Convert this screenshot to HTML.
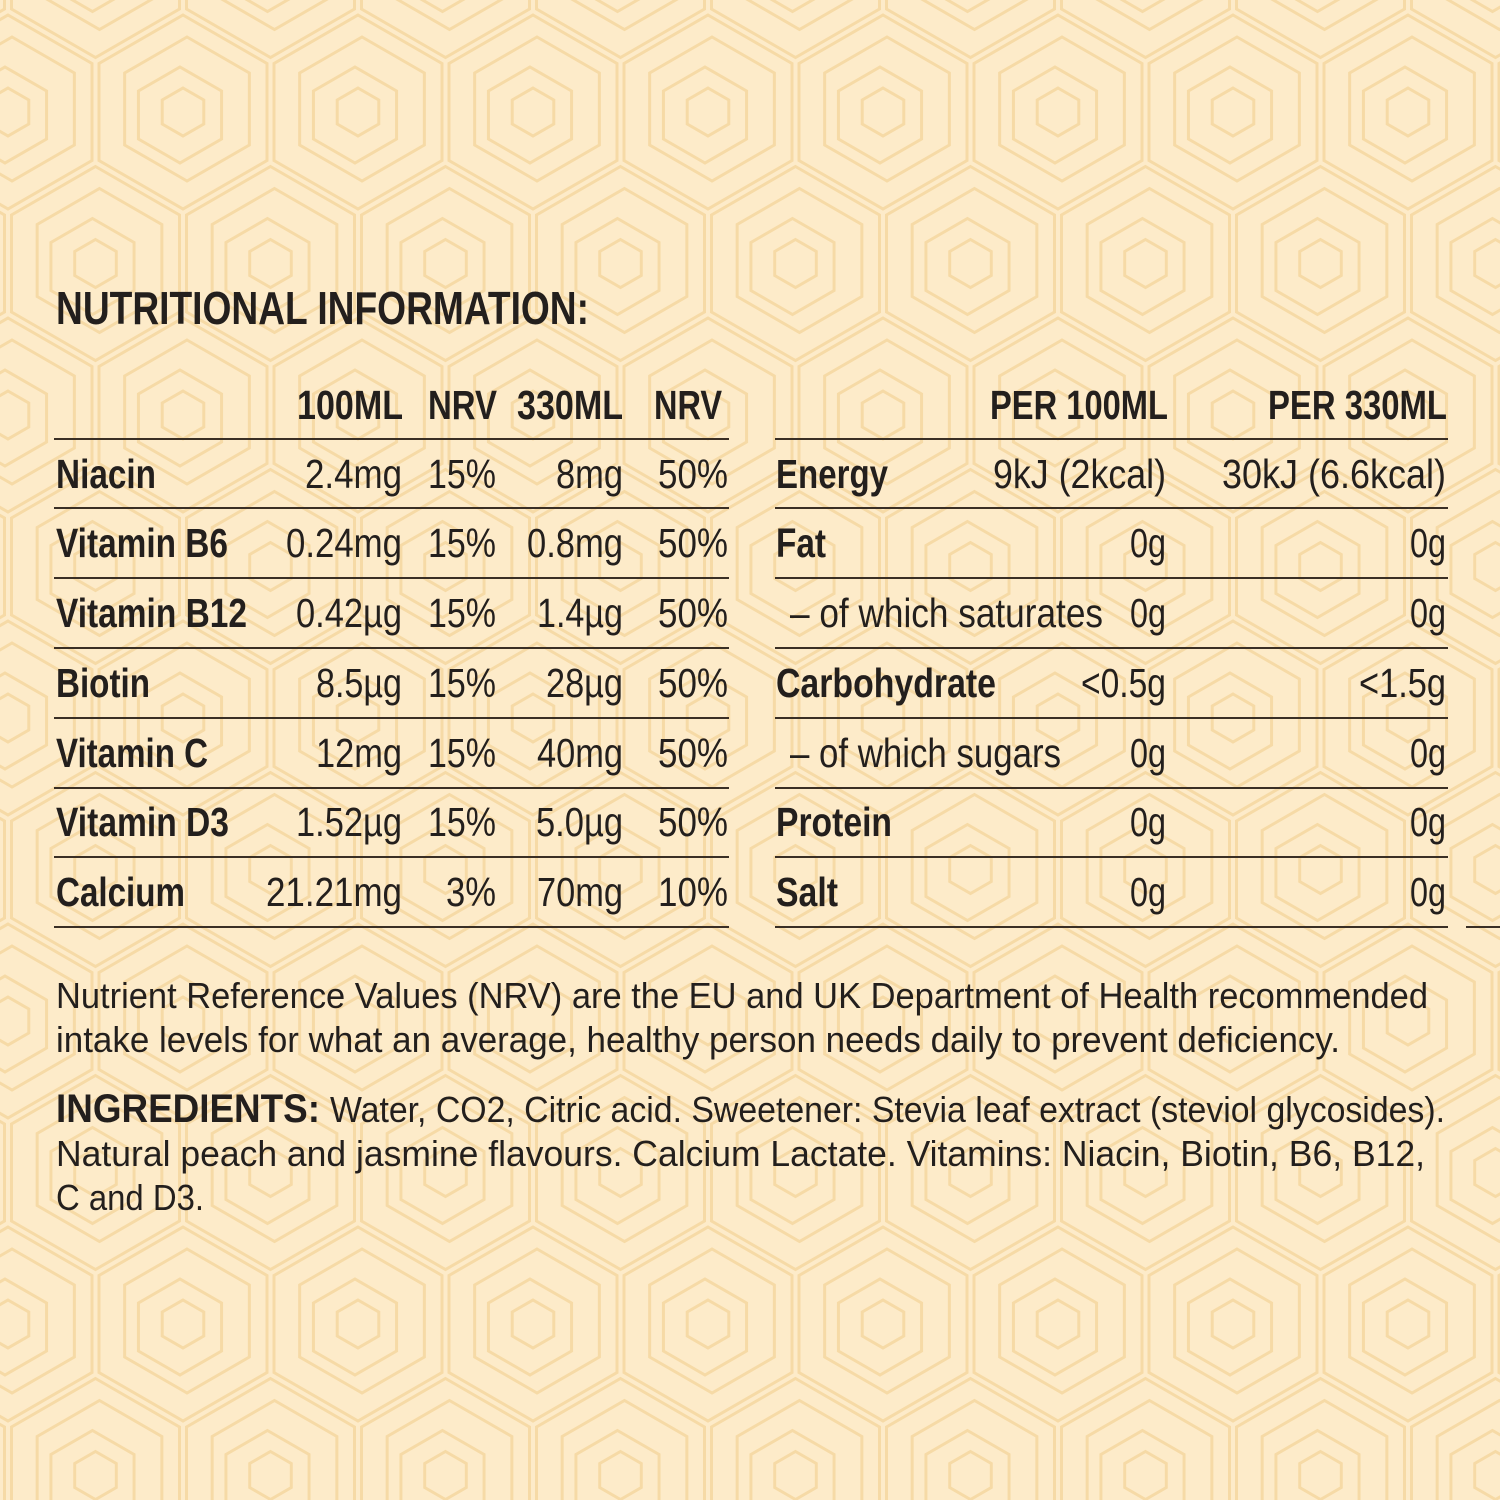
<!DOCTYPE html>
<html>
<head>
<meta charset="utf-8">
<style>
html,body{margin:0;padding:0;background:#fdebc9;}
svg{display:block;}
text{font-family:"Liberation Sans",sans-serif;fill:#231f1d;}
.b{font-weight:bold;}
</style>
</head>
<body>
<svg width="1500" height="1500" viewBox="0 0 1500 1500" xmlns="http://www.w3.org/2000/svg">
<defs>
<g id="hx" fill="none" stroke="#f5d7a0" stroke-width="3">
<polygon points="0,-1 0.866,-0.5 0.866,0.5 0,1 -0.866,0.5 -0.866,-0.5" transform="scale(97)" vector-effect="non-scaling-stroke"/>
<polygon points="0,-1 0.866,-0.5 0.866,0.5 0,1 -0.866,0.5 -0.866,-0.5" transform="translate(4,-3) scale(72)" vector-effect="non-scaling-stroke"/>
<polygon points="0,-1 0.866,-0.5 0.866,0.5 0,1 -0.866,0.5 -0.866,-0.5" transform="translate(-3,3) scale(48)" vector-effect="non-scaling-stroke"/>
<polygon points="0,-1 0.866,-0.5 0.866,0.5 0,1 -0.866,0.5 -0.866,-0.5" transform="scale(24)" vector-effect="non-scaling-stroke"/>
</g>
<pattern id="pt" patternUnits="userSpaceOnUse" width="175" height="303" patternTransform="translate(8,112)">
<use href="#hx" x="0" y="0"/>
<use href="#hx" x="175" y="0"/>
<use href="#hx" x="87.5" y="151.5"/>
<use href="#hx" x="0" y="303"/>
<use href="#hx" x="175" y="303"/>
</pattern>
</defs>
<rect width="1500" height="1500" fill="#fdebc9"/>
<rect width="1500" height="1500" fill="url(#pt)" opacity="0.85"/>

<!-- Title -->
<text class="b" x="56" y="324" font-size="46" textLength="533" lengthAdjust="spacingAndGlyphs">NUTRITIONAL INFORMATION:</text>

<!-- Rules -->
<g stroke="#3a2f25" stroke-width="2">
<line x1="54" y1="439" x2="729" y2="439"/><line x1="775" y1="439" x2="1448" y2="439"/>
<line x1="54" y1="508" x2="729" y2="508"/><line x1="775" y1="508" x2="1448" y2="508"/>
<line x1="54" y1="578" x2="729" y2="578"/><line x1="775" y1="578" x2="1448" y2="578"/>
<line x1="54" y1="648" x2="729" y2="648"/><line x1="775" y1="648" x2="1448" y2="648"/>
<line x1="54" y1="718" x2="729" y2="718"/><line x1="775" y1="718" x2="1448" y2="718"/>
<line x1="54" y1="788" x2="729" y2="788"/><line x1="775" y1="788" x2="1448" y2="788"/>
<line x1="54" y1="857" x2="729" y2="857"/><line x1="775" y1="857" x2="1448" y2="857"/>
<line x1="54" y1="927" x2="729" y2="927"/><line x1="775" y1="927" x2="1448" y2="927"/>
<line x1="1466" y1="927" x2="1500" y2="927"/>
</g>

<!-- Left header -->
<g font-size="41">
<text class="b" x="297" y="419" textLength="106" lengthAdjust="spacingAndGlyphs">100ML</text>
<text class="b" x="428" y="419" textLength="69" lengthAdjust="spacingAndGlyphs">NRV</text>
<text class="b" x="517" y="419" textLength="106" lengthAdjust="spacingAndGlyphs">330ML</text>
<text class="b" x="654" y="419" textLength="68" lengthAdjust="spacingAndGlyphs">NRV</text>

<!-- Right header -->
<text class="b" x="990" y="419" textLength="178" lengthAdjust="spacingAndGlyphs">PER 100ML</text>
<text class="b" x="1268" y="419" textLength="179" lengthAdjust="spacingAndGlyphs">PER 330ML</text>

<!-- Left rows -->
<text class="b" x="56" y="488" textLength="100" lengthAdjust="spacingAndGlyphs">Niacin</text>
<text x="305" y="488" textLength="97" lengthAdjust="spacingAndGlyphs">2.4mg</text>
<text x="428" y="488" textLength="68" lengthAdjust="spacingAndGlyphs">15%</text>
<text x="556" y="488" textLength="67" lengthAdjust="spacingAndGlyphs">8mg</text>
<text x="658" y="488" textLength="70" lengthAdjust="spacingAndGlyphs">50%</text>

<text class="b" x="56" y="557" textLength="172" lengthAdjust="spacingAndGlyphs">Vitamin B6</text>
<text x="286" y="557" textLength="116" lengthAdjust="spacingAndGlyphs">0.24mg</text>
<text x="428" y="557" textLength="68" lengthAdjust="spacingAndGlyphs">15%</text>
<text x="527" y="557" textLength="96" lengthAdjust="spacingAndGlyphs">0.8mg</text>
<text x="658" y="557" textLength="70" lengthAdjust="spacingAndGlyphs">50%</text>

<text class="b" x="56" y="627" textLength="191" lengthAdjust="spacingAndGlyphs">Vitamin B12</text>
<text x="296" y="627" textLength="106" lengthAdjust="spacingAndGlyphs">0.42µg</text>
<text x="428" y="627" textLength="68" lengthAdjust="spacingAndGlyphs">15%</text>
<text x="537" y="627" textLength="86" lengthAdjust="spacingAndGlyphs">1.4µg</text>
<text x="658" y="627" textLength="70" lengthAdjust="spacingAndGlyphs">50%</text>

<text class="b" x="56" y="697" textLength="94" lengthAdjust="spacingAndGlyphs">Biotin</text>
<text x="316" y="697" textLength="86" lengthAdjust="spacingAndGlyphs">8.5µg</text>
<text x="428" y="697" textLength="68" lengthAdjust="spacingAndGlyphs">15%</text>
<text x="546" y="697" textLength="77" lengthAdjust="spacingAndGlyphs">28µg</text>
<text x="658" y="697" textLength="70" lengthAdjust="spacingAndGlyphs">50%</text>

<text class="b" x="56" y="767" textLength="152" lengthAdjust="spacingAndGlyphs">Vitamin C</text>
<text x="316" y="767" textLength="86" lengthAdjust="spacingAndGlyphs">12mg</text>
<text x="428" y="767" textLength="68" lengthAdjust="spacingAndGlyphs">15%</text>
<text x="537" y="767" textLength="86" lengthAdjust="spacingAndGlyphs">40mg</text>
<text x="658" y="767" textLength="70" lengthAdjust="spacingAndGlyphs">50%</text>

<text class="b" x="56" y="836" textLength="173" lengthAdjust="spacingAndGlyphs">Vitamin D3</text>
<text x="296" y="836" textLength="106" lengthAdjust="spacingAndGlyphs">1.52µg</text>
<text x="428" y="836" textLength="68" lengthAdjust="spacingAndGlyphs">15%</text>
<text x="536" y="836" textLength="87" lengthAdjust="spacingAndGlyphs">5.0µg</text>
<text x="658" y="836" textLength="70" lengthAdjust="spacingAndGlyphs">50%</text>

<text class="b" x="56" y="906" textLength="129" lengthAdjust="spacingAndGlyphs">Calcium</text>
<text x="266" y="906" textLength="136" lengthAdjust="spacingAndGlyphs">21.21mg</text>
<text x="446" y="906" textLength="50" lengthAdjust="spacingAndGlyphs">3%</text>
<text x="537" y="906" textLength="86" lengthAdjust="spacingAndGlyphs">70mg</text>
<text x="658" y="906" textLength="70" lengthAdjust="spacingAndGlyphs">10%</text>

<!-- Right rows -->
<text class="b" x="776" y="488" textLength="112" lengthAdjust="spacingAndGlyphs">Energy</text>
<text x="993" y="488" textLength="173" lengthAdjust="spacingAndGlyphs">9kJ (2kcal)</text>
<text x="1222" y="488" textLength="224" lengthAdjust="spacingAndGlyphs">30kJ (6.6kcal)</text>

<text class="b" x="776" y="557" textLength="50" lengthAdjust="spacingAndGlyphs">Fat</text>
<text x="1130" y="557" textLength="36" lengthAdjust="spacingAndGlyphs">0g</text>
<text x="1410" y="557" textLength="36" lengthAdjust="spacingAndGlyphs">0g</text>

<text x="790" y="627" textLength="313" lengthAdjust="spacingAndGlyphs">– of which saturates</text>
<text x="1130" y="627" textLength="36" lengthAdjust="spacingAndGlyphs">0g</text>
<text x="1410" y="627" textLength="36" lengthAdjust="spacingAndGlyphs">0g</text>

<text class="b" x="776" y="697" textLength="220" lengthAdjust="spacingAndGlyphs">Carbohydrate</text>
<text x="1081" y="697" textLength="85" lengthAdjust="spacingAndGlyphs">&lt;0.5g</text>
<text x="1359" y="697" textLength="87" lengthAdjust="spacingAndGlyphs">&lt;1.5g</text>

<text x="790" y="767" textLength="271" lengthAdjust="spacingAndGlyphs">– of which sugars</text>
<text x="1130" y="767" textLength="36" lengthAdjust="spacingAndGlyphs">0g</text>
<text x="1410" y="767" textLength="36" lengthAdjust="spacingAndGlyphs">0g</text>

<text class="b" x="776" y="836" textLength="116" lengthAdjust="spacingAndGlyphs">Protein</text>
<text x="1130" y="836" textLength="36" lengthAdjust="spacingAndGlyphs">0g</text>
<text x="1410" y="836" textLength="36" lengthAdjust="spacingAndGlyphs">0g</text>

<text class="b" x="776" y="906" textLength="62" lengthAdjust="spacingAndGlyphs">Salt</text>
<text x="1130" y="906" textLength="36" lengthAdjust="spacingAndGlyphs">0g</text>
<text x="1410" y="906" textLength="36" lengthAdjust="spacingAndGlyphs">0g</text>
</g>

<!-- Paragraph -->
<g font-size="36">
<text x="56" y="1008" textLength="1372" lengthAdjust="spacingAndGlyphs">Nutrient Reference Values (NRV) are the EU and UK Department of Health recommended</text>
<text x="56" y="1052" textLength="1284" lengthAdjust="spacingAndGlyphs">intake levels for what an average, healthy person needs daily to prevent deficiency.</text>
<text class="b" x="56" y="1122" font-size="40" textLength="264" lengthAdjust="spacingAndGlyphs">INGREDIENTS:</text>
<text x="330" y="1122" textLength="1115" lengthAdjust="spacingAndGlyphs">Water, CO2, Citric acid. Sweetener: Stevia leaf extract (steviol glycosides).</text>
<text x="56" y="1166" textLength="1369" lengthAdjust="spacingAndGlyphs">Natural peach and jasmine flavours. Calcium Lactate. Vitamins: Niacin, Biotin, B6, B12,</text>
<text x="56" y="1210" textLength="148" lengthAdjust="spacingAndGlyphs">C and D3.</text>
</g>
</svg>
</body>
</html>
